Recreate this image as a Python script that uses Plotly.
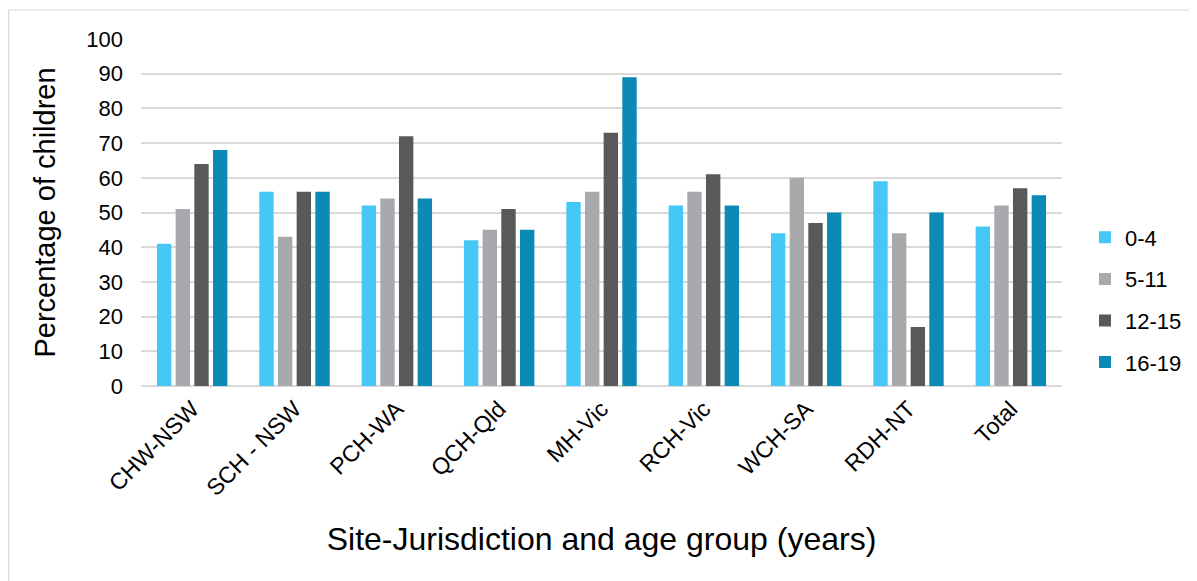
import plotly.graph_objects as go

categories = ["CHW-NSW", "SCH - NSW", "PCH-WA", "QCH-Qld", "MH-Vic", "RCH-Vic", "WCH-SA", "RDH-NT", "Total"]
age_0_4 = [41, 56, 52, 42, 53, 52, 44, 59, 46]
age_5_11 = [51, 43, 54, 45, 56, 56, 60, 44, 52]
age_12_15 = [64, 56, 72, 51, 73, 61, 47, 17, 57]
age_16_19 = [68, 56, 54, 45, 89, 52, 50, 50, 55]
series_names = ["0-4", "5-11", "12-15", "16-19"]
colors = ["#45C8F5", "#A8A9AD", "#58595B", "#0B8AB5"]

fig = go.Figure()
for name, vals, c in zip(series_names, [age_0_4, age_5_11, age_12_15, age_16_19], colors):
    fig.add_trace(go.Bar(name=name, x=categories, y=vals, legendgroup=name,
                         marker=dict(color=c, line=dict(width=0))))

# page body has an 8px margin; compensate so the plot lands where the reference has it
OFF = 8
W, H = 1197 - OFF, 581 - OFF
L, R, T, B = 141 - OFF, 135, 39 - OFF, 195
pw, ph = W - L - R, H - T - B

def px_x(p):
    return (p - OFF - L) / pw

def px_y(p):
    return (H - B - (p - OFF)) / ph

fig.update_layout(
    width=W, height=H,
    margin=dict(l=L, r=R, t=T, b=B, autoexpand=False),
    paper_bgcolor="white", plot_bgcolor="white",
    font=dict(family="Liberation Sans, Arial, sans-serif", color="#000000", size=21),
    barmode="group", bargap=0.27, bargroupgap=0.23,
    showlegend=True,
    legend=dict(x=px_x(1085), xanchor="left", y=px_y(300), yanchor="middle",
                font=dict(size=22), itemsizing="constant", tracegroupgap=10,
                itemwidth=30, bgcolor="rgba(0,0,0,0)"),
    xaxis=dict(tickangle=-45, tickfont=dict(size=23), showgrid=False,
               showline=False, ticks="", automargin=False, ticklabelstandoff=4,
               title=dict(text="Site-Jurisdiction and age group (years)", font=dict(size=32), standoff=27)),
    yaxis=dict(range=[0, 100], dtick=10, tickfont=dict(size=22),
               showgrid=True, gridcolor="#D9D9D9", gridwidth=1.5,
               zeroline=True, zerolinecolor="#D9D9D9", zerolinewidth=1.5,
               showline=False, ticks="", ticklen=0, automargin=False, ticklabelstandoff=17,
               title=dict(text="Percentage of children", font=dict(size=29), standoff=22)),
    shapes=[dict(type="rect", xref="paper", yref="paper",
                 x0=px_x(8.7), x1=px_x(1300), y0=px_y(700), y1=px_y(10),
                 line=dict(color="#D9D9D9", width=1.2), fillcolor="rgba(0,0,0,0)", layer="below")],
)

fig.write_html("out.html")
